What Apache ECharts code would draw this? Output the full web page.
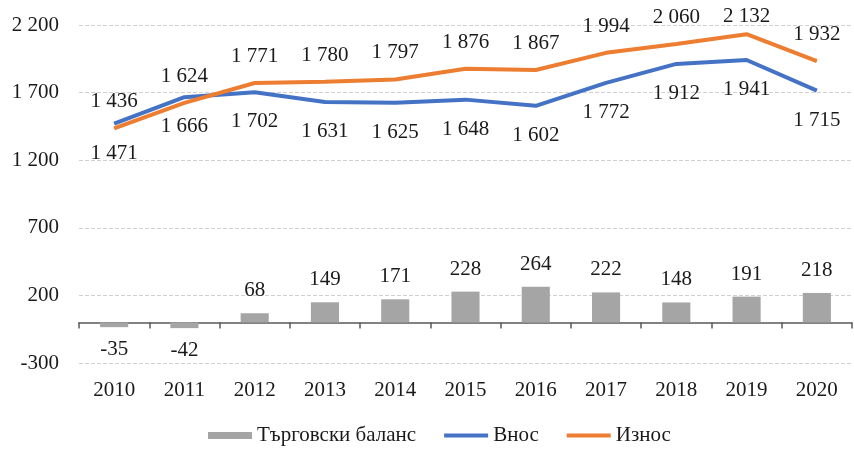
<!DOCTYPE html>
<html>
<head>
<meta charset="utf-8">
<script src="https://cdn.jsdelivr.net/npm/echarts@6/dist/echarts.min.js"></script>
<style>
  html, body { margin: 0; padding: 0; background: #fff; }
  #chart { width: 854px; height: 449px; }
</style>
</head>
<body>
<div id="chart"></div>
<script>
// данни
var years = ["2010", "2011", "2012", "2013", "2014", "2015", "2016", "2017", "2018", "2019", "2020"];
var balance = [-35, -42, 68, 149, 171, 228, 264, 222, 148, 191, 218];
var imports = [1471, 1666, 1702, 1631, 1625, 1648, 1602, 1772, 1912, 1941, 1715];
var exports = [1436, 1624, 1771, 1780, 1797, 1876, 1867, 1994, 2060, 2132, 1932];

var FONT = "Liberation Serif";
var TEXT = "#1a1a1a";

// 1 436 style
function fmt(v) {
  return String(v).replace(/\B(?=(\d{3})+(?!\d))/g, " ");
}

var chart = echarts.init(document.getElementById("chart"));

var option = {
  animation: false,
  textStyle: { fontFamily: FONT, color: TEXT, fontSize: 21 },
  grid: { left: 79, right: 2, top: 25, bottom: 86 },
  legend: {
    left: 203,
    top: 420,
    itemWidth: 44,
    itemHeight: 7,
    itemGap: 28,
    textStyle: { fontFamily: FONT, fontSize: 21, color: TEXT },
    data: [
      { name: "Търговски баланс", icon: "rect" },
      { name: "Внос", icon: "path://M0,1.5H44V5.5H0Z M0,0 M44,7" },
      { name: "Износ", icon: "path://M0,1.5H44V5.5H0Z M0,0 M44,7" },
    ],
  },
  xAxis: [
    {
      type: "category",
      data: years,
      axisLine: { onZero: true, lineStyle: { color: "#595959", width: 1.5 } },
      axisTick: { show: true, length: 6, lineStyle: { color: "#595959", width: 1.5 } },
      axisLabel: { show: false },
    },
    {
      type: "category",
      data: years,
      position: "bottom",
      axisLine: { show: false, onZero: false },
      axisTick: { show: false },
      axisLabel: { margin: 17, fontFamily: FONT, fontSize: 21, color: TEXT },
    },
  ],
  yAxis: {
    type: "value",
    min: -300,
    max: 2200,
    interval: 500,
    axisLine: { show: false },
    axisTick: { show: false },
    axisLabel: { margin: 20, fontFamily: FONT, fontSize: 21, color: TEXT, formatter: fmt },
    splitLine: { show: true, lineStyle: { color: "#d0d0d0", type: "dashed", width: 1 } },
  },
  series: [
    {
      name: "Търговски баланс",
      type: "bar",
      data: balance,
      barWidth: "40%",
      itemStyle: { color: "#a5a5a5" },
      label: {
        show: true,
        position: "outside",
        distance: 12,
        fontFamily: FONT,
        fontSize: 21,
        color: TEXT,
        formatter: function (p) { return fmt(p.value); },
      },
    },
    {
      name: "Внос",
      type: "line",
      data: imports,
      symbol: "circle",
      symbolSize: 0.1,
      showSymbol: true,
      lineStyle: { color: "#4472c4", width: 4 },
      itemStyle: { color: "#4472c4" },
      label: {
        show: true,
        position: "bottom",
        distance: 19,
        fontFamily: FONT,
        fontSize: 21,
        color: TEXT,
        formatter: function (p) { return fmt(p.value); },
      },
    },
    {
      name: "Износ",
      type: "line",
      data: exports,
      symbol: "circle",
      symbolSize: 0.1,
      showSymbol: true,
      lineStyle: { color: "#ed7d31", width: 4 },
      itemStyle: { color: "#ed7d31" },
      label: {
        show: true,
        position: "top",
        distance: 16,
        fontFamily: FONT,
        fontSize: 21,
        color: TEXT,
        formatter: function (p) { return fmt(p.value); },
      },
      labelLayout: function (p) {
        // keep top labels inside the picture
        if (p.labelRect.y < 6) return { dy: 6 - p.labelRect.y };
        return {};
      },
    },
  ],
};

chart.setOption(option);
</script>
</body>
</html>
